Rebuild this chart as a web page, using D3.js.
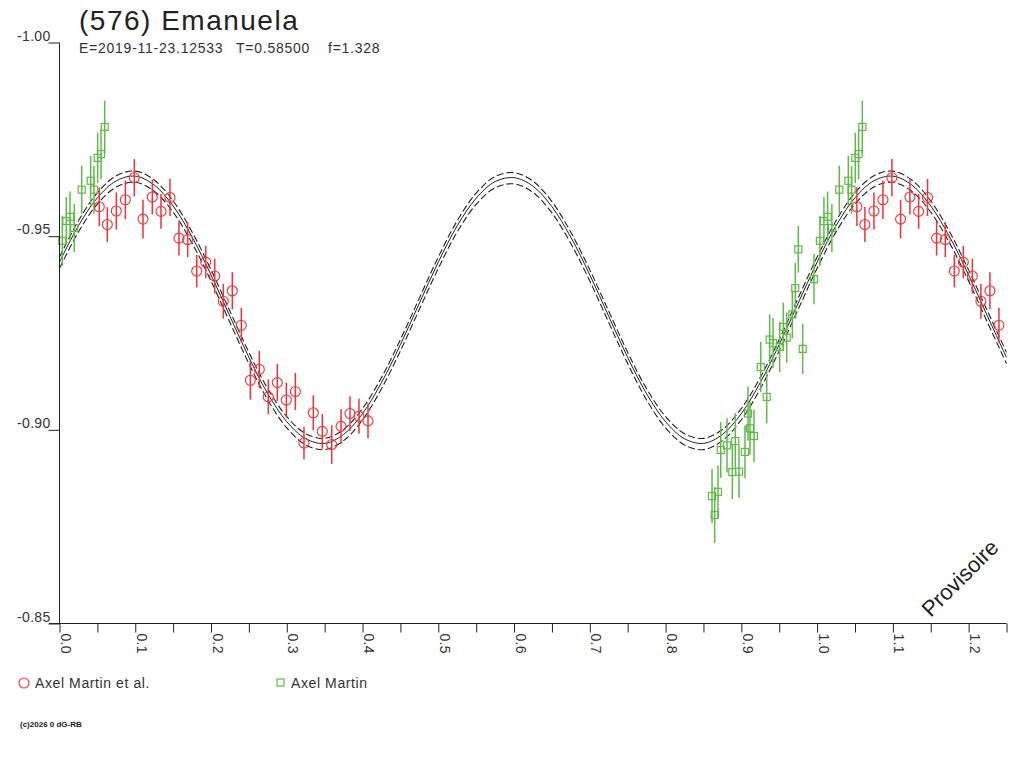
<!DOCTYPE html>
<html>
<head>
<meta charset="utf-8">
<script src="https://cdn.jsdelivr.net/npm/d3@7"></script>
<style>
  html, body { margin: 0; padding: 0; background: #fff; }
  svg { display: block; font-family: "Liberation Sans", Arial, sans-serif; }
  .tick text { fill: #333; font-size: 14px; letter-spacing: 0.3px; }
  .tick line { stroke: #222; }
</style>
</head>
<body>
<div id="chart"></div>
<script>
// lightcurve fit, read at phase steps of 0.025 (0 .. 1.25)
const fitMid = [
  -0.9433, -0.9527, -0.9599, -0.9643, -0.9655, -0.9632, -0.9578, -0.9498, -0.9400, -0.9293,
  -0.9187, -0.9093, -0.9021, -0.8977, -0.8965, -0.8988, -0.9042, -0.9122, -0.9220, -0.9327,
  -0.9433, -0.9527, -0.9598, -0.9641, -0.9651, -0.9629, -0.9576, -0.9497, -0.9400, -0.9293,
  -0.9187, -0.9093, -0.9021, -0.8977, -0.8965, -0.8988, -0.9042, -0.9122, -0.9220, -0.9327,
  -0.9433, -0.9527, -0.9599, -0.9643, -0.9655, -0.9632, -0.9578, -0.9498, -0.9400, -0.9293,
  -0.9187
];
const fitUpper = [
  -0.9446, -0.9540, -0.9612, -0.9656, -0.9668, -0.9645, -0.9591, -0.9511, -0.9413, -0.9306,
  -0.9200, -0.9106, -0.9034, -0.8990, -0.8978, -0.9001, -0.9055, -0.9135, -0.9233, -0.9340,
  -0.9446, -0.9540, -0.9611, -0.9654, -0.9664, -0.9642, -0.9589, -0.9510, -0.9413, -0.9306,
  -0.9200, -0.9106, -0.9034, -0.8990, -0.8978, -0.9001, -0.9055, -0.9135, -0.9233, -0.9340,
  -0.9446, -0.9540, -0.9612, -0.9656, -0.9668, -0.9645, -0.9591, -0.9511, -0.9413, -0.9306,
  -0.9200
];
const fitLower = [
  -0.9417, -0.9511, -0.9583, -0.9627, -0.9639, -0.9616, -0.9562, -0.9482, -0.9384, -0.9277,
  -0.9171, -0.9077, -0.9005, -0.8961, -0.8949, -0.8972, -0.9026, -0.9106, -0.9204, -0.9311,
  -0.9417, -0.9511, -0.9582, -0.9625, -0.9635, -0.9613, -0.9560, -0.9481, -0.9384, -0.9277,
  -0.9171, -0.9077, -0.9005, -0.8961, -0.8949, -0.8972, -0.9026, -0.9106, -0.9204, -0.9311,
  -0.9417, -0.9511, -0.9583, -0.9627, -0.9639, -0.9616, -0.9562, -0.9482, -0.9384, -0.9277,
  -0.9171
];

// Axel Martin et al.
const redPhase = [0.0525, 0.0631, 0.0750, 0.0869, 0.0987, 0.1102, 0.1225, 0.1340, 0.1458, 0.1577,
  0.1692, 0.1811, 0.1930, 0.2049, 0.2162, 0.2281, 0.2400, 0.2519, 0.2637, 0.2756,
  0.2875, 0.2994, 0.3113, 0.3227, 0.3350, 0.3469, 0.3593, 0.3716, 0.3834, 0.3953, 0.4072];
const redMag = [-0.9576, -0.9530, -0.9565, -0.9594, -0.9651, -0.9544, -0.9601, -0.9564, -0.9600, -0.9495,
  -0.9491, -0.9410, -0.9433, -0.9397, -0.9332, -0.9359, -0.9270, -0.9128, -0.9156, -0.9085,
  -0.9122, -0.9077, -0.9099, -0.8966, -0.9044, -0.8996, -0.8962, -0.9009, -0.9042, -0.9035, -0.9023];
const redErr = [0.0050, 0.0045, 0.0048, 0.0050, 0.0048, 0.0050, 0.0045, 0.0045, 0.0048, 0.0045,
  0.0045, 0.0042, 0.0042, 0.0045, 0.0045, 0.0048, 0.0045, 0.0050, 0.0048, 0.0045,
  0.0048, 0.0045, 0.0048, 0.0042, 0.0045, 0.0045, 0.0050, 0.0045, 0.0045, 0.0045, 0.0045];

// Axel Martin
const greenPhase = [0.0037, 0.0090, 0.0139, 0.0195, 0.0293, 0.0412, 0.0455, 0.0504, 0.0548, 0.0597,
  0.8613, 0.8648, 0.8692, 0.8728, 0.8811, 0.8881, 0.8920, 0.8969, 0.9048, 0.9088,
  0.9114, 0.9167, 0.9256, 0.9335, 0.9374, 0.9418, 0.9506, 0.9554, 0.9599, 0.9673,
  0.9712, 0.9752, 0.9810, 0.9959];
const greenMag = [-0.9488, -0.9539, -0.9550, -0.9521, -0.9620, -0.9643, -0.9620, -0.9702, -0.9712, -0.9782,
  -0.8829, -0.8780, -0.8840, -0.8948, -0.8960, -0.8891, -0.8971, -0.8892, -0.8943, -0.9042,
  -0.9004, -0.8984, -0.9162, -0.9085, -0.9233, -0.9224, -0.9214, -0.9266, -0.9238, -0.9298,
  -0.9366, -0.9466, -0.9209, -0.9389];
const greenErr = [0.0065, 0.0062, 0.0065, 0.0062, 0.0062, 0.0065, 0.0062, 0.0065, 0.0065, 0.0068,
  0.0070, 0.0072, 0.0068, 0.0072, 0.0070, 0.0070, 0.0072, 0.0068, 0.0068, 0.0070,
  0.0068, 0.0068, 0.0065, 0.0068, 0.0065, 0.0065, 0.0065, 0.0062, 0.0065, 0.0062,
  0.0065, 0.0060, 0.0065, 0.0065];

const xTicks = [0, 0.05, 0.1, 0.15, 0.2, 0.25, 0.3, 0.35, 0.4, 0.45, 0.5, 0.55, 0.6,
  0.65, 0.7, 0.75, 0.8, 0.85, 0.9, 0.95, 1.0, 1.05, 1.1, 1.15, 1.2, 1.25];
const yTicks = [-1.00, -0.95, -0.90, -0.85];

const width = 1024, height = 768;
const xMax = 1.25;

const svg = d3.select("#chart").append("svg")
    .attr("width", width)
    .attr("height", height);

const x = d3.scaleLinear().domain([0, xMax]).range([59.5, 1006.5]);
const y = d3.scaleLinear().domain([-1.00, -0.85]).range([42.5, 623.5]);

// fit curves
const fitPhase = fitMid.map((d, i) => i * 0.025);
const line = d3.line()
    .x((d, i) => x(fitPhase[i]))
    .y(d => y(d))
    .curve(d3.curveCatmullRom);

svg.append("path").datum(fitUpper)
    .attr("d", line).attr("fill", "none")
    .attr("stroke", "#222").attr("stroke-width", 1.1)
    .attr("stroke-dasharray", "7,3");
svg.append("path").datum(fitLower)
    .attr("d", line).attr("fill", "none")
    .attr("stroke", "#222").attr("stroke-width", 1.1)
    .attr("stroke-dasharray", "7,3");
svg.append("path").datum(fitMid)
    .attr("d", line).attr("fill", "none")
    .attr("stroke", "#222").attr("stroke-width", 1);

// points, repeated one cycle later where the axis still shows them
function wrapPoints(phase, mag, err) {
    const pts = [];
    phase.forEach((p, i) => {
        pts.push({ p: p, m: mag[i], e: err[i] });
        if (p + 1 <= xMax) pts.push({ p: p + 1, m: mag[i], e: err[i] });
    });
    return pts;
}

const red = "#ee3338", green = "#62b84a";
const redPts = wrapPoints(redPhase, redMag, redErr);
const greenPts = wrapPoints(greenPhase, greenMag, greenErr);

const gGreen = svg.append("g");
gGreen.selectAll("line").data(greenPts).enter().append("line")
    .attr("x1", d => x(d.p)).attr("x2", d => x(d.p))
    .attr("y1", d => y(d.m - d.e)).attr("y2", d => y(d.m + d.e))
    .attr("stroke", green).attr("stroke-width", 1.5);
gGreen.selectAll("rect").data(greenPts).enter().append("rect")
    .attr("x", d => x(d.p) - 3.5).attr("y", d => y(d.m) - 3.5)
    .attr("width", 7).attr("height", 7)
    .attr("fill", "none").attr("stroke", green).attr("stroke-width", 1.2);

const gRed = svg.append("g");
gRed.selectAll("line").data(redPts).enter().append("line")
    .attr("x1", d => x(d.p)).attr("x2", d => x(d.p))
    .attr("y1", d => y(d.m - d.e)).attr("y2", d => y(d.m + d.e))
    .attr("stroke", red).attr("stroke-width", 1.5);
gRed.selectAll("circle").data(redPts).enter().append("circle")
    .attr("cx", d => x(d.p)).attr("cy", d => y(d.m))
    .attr("r", 5)
    .attr("fill", "none").attr("stroke", red).attr("stroke-width", 1.1);

// axes
svg.append("line")
    .attr("x1", 59.5).attr("x2", 59.5).attr("y1", y(-1.00)).attr("y2", y(-0.85))
    .attr("stroke", "#222");
svg.append("line")
    .attr("x1", 49).attr("x2", x(xMax)).attr("y1", y(-0.85)).attr("y2", y(-0.85))
    .attr("stroke", "#222");

const xAxis = svg.append("g")
    .attr("transform", `translate(0,${y(-0.85)})`)
    .call(d3.axisBottom(x).tickValues(xTicks).tickSize(9).tickSizeOuter(0)
        .tickFormat(d => Math.round(d * 100) % 10 === 0 ? d3.format(".1f")(d) : ""));
xAxis.select(".domain").remove();
xAxis.selectAll(".tick text")
    .attr("transform", "rotate(90)")
    .attr("x", 10).attr("y", -1).attr("dy", 0)
    .attr("text-anchor", "start");

const yAxis = svg.append("g")
    .attr("transform", "translate(59.5,0)")
    .call(d3.axisLeft(y).tickValues(yTicks).tickSize(11).tickSizeOuter(0)
        .tickFormat(d => d.toFixed(2)));
yAxis.select(".domain").remove();
yAxis.selectAll(".tick text")
    .attr("x", -9).attr("dy", 0).attr("y", -2.5);

// titles
svg.append("text").attr("x", 79).attr("y", 29.5)
    .attr("font-size", 28).attr("letter-spacing", 1.5)
    .attr("fill", "#222").text("(576) Emanuela");
const sub = svg.append("g").attr("font-size", 14).attr("letter-spacing", 0.75).attr("fill", "#333");
sub.append("text").attr("x", 79).attr("y", 53).text("E=2019-11-23.12533");
sub.append("text").attr("x", 236).attr("y", 53).text("T=0.58500");
sub.append("text").attr("x", 328).attr("y", 53).text("f=1.328");

// watermark
svg.append("text")
    .attr("transform", "translate(960,578) rotate(-45)")
    .attr("text-anchor", "middle").attr("dominant-baseline", "central")
    .attr("font-size", 22).attr("fill", "#222").text("Provisoire");

// legend
svg.append("circle").attr("cx", 24).attr("cy", 683).attr("r", 5)
    .attr("fill", "none").attr("stroke", red).attr("stroke-width", 1.1);
svg.append("text").attr("x", 35).attr("y", 688).attr("font-size", 14)
    .attr("letter-spacing", 0.6).attr("fill", "#333").text("Axel Martin et al.");
svg.append("rect").attr("x", 277).attr("y", 679).attr("width", 7).attr("height", 7)
    .attr("fill", "none").attr("stroke", green).attr("stroke-width", 1.2);
svg.append("text").attr("x", 291).attr("y", 688).attr("font-size", 14)
    .attr("letter-spacing", 0.6).attr("fill", "#333").text("Axel Martin");

svg.append("text").attr("x", 20).attr("y", 727).attr("font-size", 8)
    .attr("font-weight", "bold").attr("fill", "#222").text("(c)2026 0 dG-RB");
</script>
</body>
</html>
